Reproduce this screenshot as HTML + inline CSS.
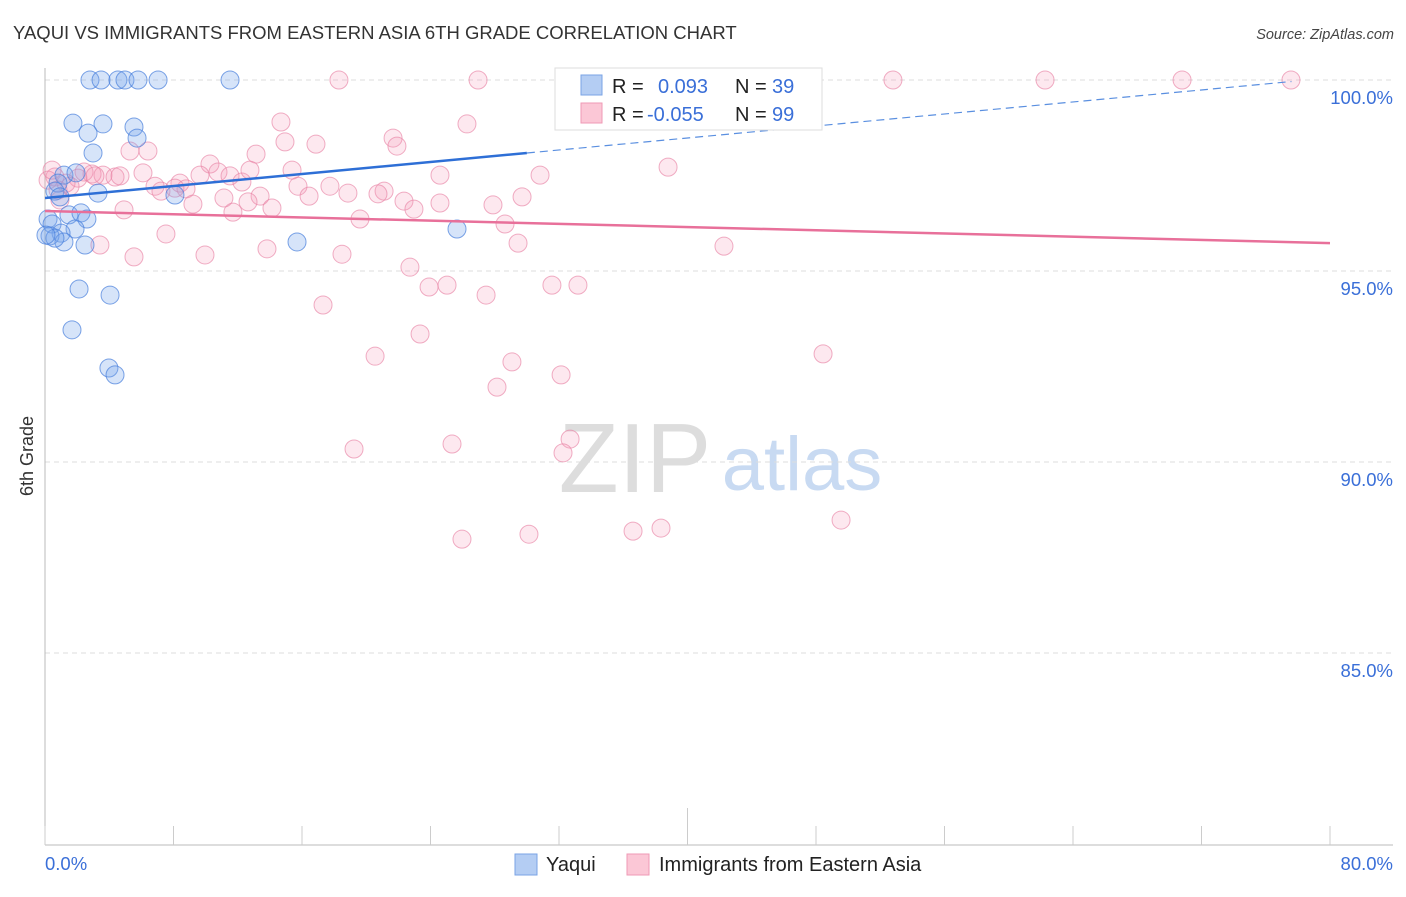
<!DOCTYPE html>
<html><head><meta charset="utf-8">
<style>
body{margin:0;background:#fff;font-family:"Liberation Sans",sans-serif;}
svg text{font-family:"Liberation Sans",sans-serif;}
</style></head>
<body>
<svg id="chart" width="1406" height="892" xmlns="http://www.w3.org/2000/svg">
<text x="13" y="39" font-size="18.5" fill="#333">YAQUI VS IMMIGRANTS FROM EASTERN ASIA 6TH GRADE CORRELATION CHART</text>
<text x="1394" y="39" font-size="14.5" fill="#444" text-anchor="end" font-style="italic">Source: ZipAtlas.com</text>
<text transform="translate(33,456) rotate(-90)" font-size="18" fill="#333" text-anchor="middle">6th Grade</text>
<g>
<text x="635" y="492" font-size="98" fill="#ddd" text-anchor="middle" font-family="Liberation Serif,serif">ZIP</text>
<text x="802" y="490" font-size="76" fill="#c8daf2" text-anchor="middle">atlas</text>
</g>
<g id="grid"></g>
<g id="axes"></g>
<g id="points"></g>
<g id="trends"></g>
<g>
<rect x="555" y="68" width="267" height="62" fill="#fff" stroke="#ddd"/>
<rect x="581" y="75" width="21" height="20" fill="#b4cdf3" stroke="#7aa3e6"/>
<text x="612" y="93" font-size="20" fill="#222">R = </text>
<text x="658" y="93" font-size="20" fill="#3a6fd8">0.093</text>
<text x="735" y="93" font-size="20" fill="#222">N = </text>
<text x="772" y="93" font-size="20" fill="#3a6fd8">39</text>
<rect x="581" y="103" width="21" height="20" fill="#fbc7d6" stroke="#ef9ab5"/>
<text x="612" y="121" font-size="20" fill="#222">R = </text>
<text x="647" y="121" font-size="20" fill="#3a6fd8">-0.055</text>
<text x="735" y="121" font-size="20" fill="#222">N = </text>
<text x="772" y="121" font-size="20" fill="#3a6fd8">99</text>
</g>
<g>
<rect x="515" y="854" width="22" height="21" fill="#b4cdf3" stroke="#7aa3e6"/>
<text x="546" y="871" font-size="20" fill="#222">Yaqui</text>
<rect x="627" y="854" width="22" height="21" fill="#fbc7d6" stroke="#ef9ab5"/>
<text x="659" y="871" font-size="20" fill="#222">Immigrants from Eastern Asia</text>
</g>
</svg>
<script>
const yTicks=[100,95,90,85];
const yTickLabels=["100.0%","95.0%","90.0%","85.0%"];
const xTickVals=[0,8,16,24,32,40,48,56,64,72,80];
const xEndLabels=["0.0%","80.0%"];
const yaquiX=[2.80,3.49,4.54,4.98,5.79,7.04,11.52,1.74,3.61,2.68,5.54,5.73,2.99,1.18,1.93,0.81,0.62,3.30,8.09,1.49,2.24,2.61,0.19,0.44,1.87,1.00,0.31,1.18,2.49,15.69,25.65,2.12,4.05,1.68,3.98,4.36,0.93,0.62,0.06];
const yaquiY=[100,100,100,100,100,100,100,98.87,98.85,98.61,98.77,98.48,98.09,97.51,97.57,97.30,97.09,97.04,96.99,96.47,96.52,96.36,96.36,96.23,96.10,95.99,95.92,95.76,95.68,95.76,96.10,94.53,94.37,93.46,92.46,92.28,96.94,95.86,95.94];
const immX=[18.30,26.96,37.04,39.04,43.08,52.79,62.26,70.79,77.57,14.69,26.27,21.67,21.91,14.94,16.87,5.29,6.41,13.14,38.79,15.38,30.82,0.62,2.05,2.93,3.61,4.36,6.10,10.27,10.77,11.52,12.26,15.75,17.74,21.11,6.85,7.22,8.40,8.78,9.65,13.39,16.44,18.86,20.73,22.35,24.59,27.89,29.70,11.14,12.64,9.21,14.13,22.97,11.70,4.92,19.61,28.64,7.53,29.45,42.27,3.42,13.82,5.54,9.96,18.49,22.72,23.91,25.03,27.46,31.56,33.18,17.31,23.35,20.55,29.07,48.44,32.13,28.14,32.69,19.24,25.34,32.25,25.96,30.13,36.61,38.35,49.56,1.31,0.19,0.93,1.56,2.43,3.11,8.09,4.67,0.44,0.81,12.76,24.59,34.55];
const immY=[100,100,100,100,100,100,100,100,100,98.90,98.85,98.48,98.27,98.38,98.32,98.14,98.14,98.06,97.72,97.64,97.51,97.46,97.43,97.54,97.51,97.46,97.57,97.80,97.59,97.49,97.33,97.22,97.22,97.09,97.22,97.09,97.30,97.15,97.51,96.96,96.96,97.04,97.02,96.83,96.78,96.73,96.94,96.91,96.81,96.75,96.65,96.62,96.54,96.60,96.36,96.23,95.97,95.73,95.65,95.68,95.58,95.37,95.42,95.44,95.10,94.58,94.63,94.37,94.63,94.63,94.11,93.35,92.77,92.62,92.83,92.28,91.96,90.60,90.34,90.47,90.24,87.98,88.11,88.19,88.27,88.48,97.30,97.38,96.86,97.22,97.59,97.49,97.17,97.49,97.64,97.12,97.64,97.51,100];
const yaquiTrend=[96.91,0.0393];
const immTrend=[96.57,-0.0105];
const yaquiSolidEnd=30;
const yaquiDashEnd=77.6;

const NS="http://www.w3.org/2000/svg";
const X=v=>45+v/80*1285;
const Y=v=>80+(100-v)*38.2;
function mk(tag,attrs,parent){const e=document.createElementNS(NS,tag);for(const k in attrs)e.setAttribute(k,attrs[k]);parent.appendChild(e);return e;}
const grid=document.getElementById('grid'),axes=document.getElementById('axes'),pts=document.getElementById('points'),tr=document.getElementById('trends');
yTicks.forEach((t,i)=>{
 const l=mk('line',{x1:45,x2:1393,y1:Y(t),y2:Y(t),stroke:'#ddd','stroke-dasharray':'5,4'},grid);
 
 
 const tx=mk('text',{x:1393,y:Y(t)+24,'font-size':18.5,fill:'#3a6fd8','text-anchor':'end'},grid);
 tx.textContent=yTickLabels[i];
 
 
});
const ay=mk('line',{x1:45,x2:45,y1:68,y2:845,stroke:'#bbb'},axes);


const ax=mk('line',{x1:45,x2:1393,y1:845,y2:845,stroke:'#bbb'},axes);


xTickVals.forEach(v=>{
 const t=mk('line',{x1:X(v),x2:X(v),y1:v===40?808:826,y2:845,stroke:'#ccc'},axes);
 
 
});
const xl0=mk('text',{x:45,y:870,'font-size':18.5,fill:'#3a6fd8'},axes);xl0.textContent=xEndLabels[0];


const xl1=mk('text',{x:1393,y:870,'font-size':18.5,fill:'#3a6fd8','text-anchor':'end'},axes);xl1.textContent=xEndLabels[1];


immX.forEach((v,i)=>{
 const c=mk('circle',{cx:X(v),cy:Y(immY[i]),r:9,fill:'rgba(244,150,180,0.22)',stroke:'rgba(232,130,165,0.65)','stroke-width':1},pts);
 
 
});
yaquiX.forEach((v,i)=>{
 const c=mk('circle',{cx:X(v),cy:Y(yaquiY[i]),r:9,fill:'rgba(120,165,235,0.3)',stroke:'rgba(70,125,220,0.7)','stroke-width':1},pts);
 
 
});
const f=(t,x)=>t[0]+t[1]*x;
const l1=mk('line',{x1:X(0),y1:Y(f(yaquiTrend,0)),x2:X(yaquiSolidEnd),y2:Y(f(yaquiTrend,yaquiSolidEnd)),stroke:'#2e6fd6','stroke-width':2.5},tr);


const l2=mk('line',{x1:X(yaquiSolidEnd),y1:Y(f(yaquiTrend,yaquiSolidEnd)),x2:X(yaquiDashEnd),y2:Y(f(yaquiTrend,yaquiDashEnd)),stroke:'#5a8fe0','stroke-width':1.2,'stroke-dasharray':'8,5'},tr);


const l3=mk('line',{x1:X(0),y1:Y(f(immTrend,0)),x2:X(80),y2:Y(f(immTrend,80)),stroke:'#e8709a','stroke-width':2.5},tr);


</script>
</body></html>
